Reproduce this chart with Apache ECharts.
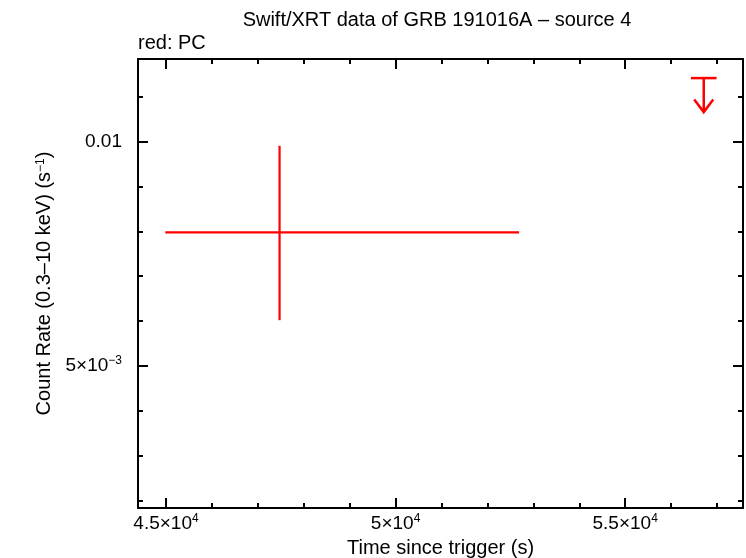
<!DOCTYPE html>
<html><head><meta charset="utf-8">
<script src="https://cdn.jsdelivr.net/npm/echarts@6/dist/echarts.min.js"></script>
<style>html,body{margin:0;padding:0;background:#fff}#c{width:746px;height:558px}</style>
</head><body><div id="c"></div>
<script>
// PC mode data point (time, errors in s; rate, errors in counts/s)
const pcTime = [47473];
const pcTimeNeg = [2488];
const pcTimePos = [5217];
const pcRate = [0.00798];
const pcRateNeg = [0.00196];
const pcRatePos = [0.00193];
// PC upper limit
const ulTime = [56711];
const ulTimeErr = [279];
const ulRate = [0.01142];
// axes
const xRange = [44390, 57566];
const yRange = [0.00183, 0.011846];
const xMajorTicks = [45000, 50000, 55000];
const xMinorTicks = [45000, 46000, 47000, 48000, 49000, 50000, 51000, 52000, 53000, 54000, 55000, 56000, 57000];
const xTickLabels = [['4.5×10', '4'], ['5×10', '4'], ['5.5×10', '4']];
const yMajorTicks = [0.005, 0.01];
const yMinorTicks = [0.002, 0.003, 0.004, 0.005, 0.006, 0.007, 0.008, 0.009, 0.010, 0.011];
const yTickLabels = [['5×10', '−3'], ['0.01', '']];

const FONT = 'Liberation Sans';
const RED = '#ff0000';
const rich = {
  b: { fontFamily: FONT, fontSize: 19, color: '#000', lineHeight: 22 },
  s: { fontFamily: FONT, fontSize: 12, color: '#000', lineHeight: 22, verticalAlign: 'top' }
};
function fmt(pair) { return '{b|' + pair[0] + '}' + (pair[1] ? '{s|' + pair[1] + '}' : ''); }

function mkAxis(kind, pos, ticks, len, opts) {
  const ax = {
    type: 'value', position: pos,
    min: kind === 'x' ? xRange[0] : yRange[0],
    max: kind === 'x' ? xRange[1] : yRange[1],
    splitLine: { show: false },
    axisLine: { show: !!opts.line, onZero: false, lineStyle: { color: '#000', width: 2 } },
    axisTick: { show: true, inside: true, length: len, customValues: ticks, lineStyle: { color: '#000', width: 2 } },
    axisLabel: { show: false }
  };
  if (opts.labels) {
    const vals = kind === 'x' ? xMajorTicks : yMajorTicks;
    const txt = kind === 'x' ? xTickLabels : yTickLabels;
    ax.axisLabel = {
      show: true, customValues: vals, margin: opts.margin, rich: rich,
      formatter: function (v) {
        for (let i = 0; i < vals.length; i++) if (Math.abs(vals[i] - v) < 1e-9 * Math.max(1, Math.abs(v))) return fmt(txt[i]);
        return '';
      }
    };
  }
  if (opts.name) {
    ax.name = opts.name; ax.nameLocation = 'middle'; ax.nameGap = opts.nameGap;
    ax.nameTextStyle = { fontFamily: FONT, fontSize: 20, color: '#000', rich: {
      a: { fontFamily: FONT, fontSize: 20, color: '#000' },
      s: { fontFamily: FONT, fontSize: 12, color: '#000', verticalAlign: 'top' } } };
  }
  return ax;
}

const pcData = pcTime.map((t, i) => [t, t - pcTimeNeg[i], t + pcTimePos[i], pcRate[i], pcRate[i] - pcRateNeg[i], pcRate[i] + pcRatePos[i]]);
const ulData = ulTime.map((t, i) => [t, t - ulTimeErr[i], t + ulTimeErr[i], ulRate[i]]);

const chart = echarts.init(document.getElementById('c'), null, { renderer: 'canvas' });
chart.setOption({
  animation: false,
  backgroundColor: '#fff',
  grid: { left: 138, right: 3, top: 59, bottom: 50, containLabel: false, outerBoundsMode: 'none' },
  graphic: [
    { type: 'text', x: 437, y: 10, style: { text: 'Swift/XRT data of GRB 191016A – source 4', font: '20px "' + FONT + '"', fill: '#000', align: 'center' } },
    { type: 'text', x: 138, y: 33, style: { text: 'red: PC', font: '20px "' + FONT + '"', fill: '#000', align: 'left' } }
  ],
  xAxis: [
    mkAxis('x', 'bottom', xMinorTicks, 5, { line: true, labels: true, margin: 5, name: 'Time since trigger (s)', nameGap: 27 }),
    mkAxis('x', 'bottom', xMajorTicks, 10, {}),
    mkAxis('x', 'top', xMinorTicks, 5, { line: true }),
    mkAxis('x', 'top', xMajorTicks, 10, {})
  ],
  yAxis: [
    mkAxis('y', 'left', yMinorTicks, 5, { line: true, labels: true, margin: 16, name: '{a|Count Rate (0.3–10 keV) (s}{s|−1}{a|)}', nameGap: 76 }),
    mkAxis('y', 'left', yMajorTicks, 10, {}),
    mkAxis('y', 'right', yMinorTicks, 5, { line: true }),
    mkAxis('y', 'right', yMajorTicks, 10, {})
  ],
  series: [
    {
      type: 'custom', name: 'PC', xAxisIndex: 0, yAxisIndex: 0,
      encode: { x: [0, 1, 2], y: [3, 4, 5] },
      data: pcData,
      renderItem: function (params, api) {
        const l = api.coord([api.value(1), api.value(3)]);
        const r = api.coord([api.value(2), api.value(3)]);
        const b = api.coord([api.value(0), api.value(4)]);
        const t = api.coord([api.value(0), api.value(5)]);
        const st = { stroke: RED, lineWidth: 2.2 };
        return { type: 'group', children: [
          { type: 'line', shape: { x1: l[0], y1: l[1], x2: r[0], y2: r[1] }, style: st },
          { type: 'line', shape: { x1: b[0], y1: b[1], x2: t[0], y2: t[1] }, style: st }
        ] };
      }
    },
    {
      type: 'custom', name: 'PC upper limit', xAxisIndex: 0, yAxisIndex: 0,
      encode: { x: [0, 1, 2], y: [3] },
      data: ulData,
      renderItem: function (params, api) {
        const c = api.coord([api.value(0), api.value(3)]);
        const l = api.coord([api.value(1), api.value(3)]);
        const r = api.coord([api.value(2), api.value(3)]);
        const L = 34, aw = 9.5, ah = 12.5;
        const st = { stroke: RED, lineWidth: 2.5, fill: null };
        return { type: 'group', children: [
          { type: 'line', shape: { x1: l[0], y1: l[1], x2: r[0], y2: r[1] }, style: st },
          { type: 'line', shape: { x1: c[0], y1: c[1], x2: c[0], y2: c[1] + L }, style: st },
          { type: 'polyline', shape: { points: [[c[0] - aw, c[1] + L - ah], [c[0], c[1] + L], [c[0] + aw, c[1] + L - ah]] }, style: st }
        ] };
      }
    }
  ]
});
</script></body></html>
